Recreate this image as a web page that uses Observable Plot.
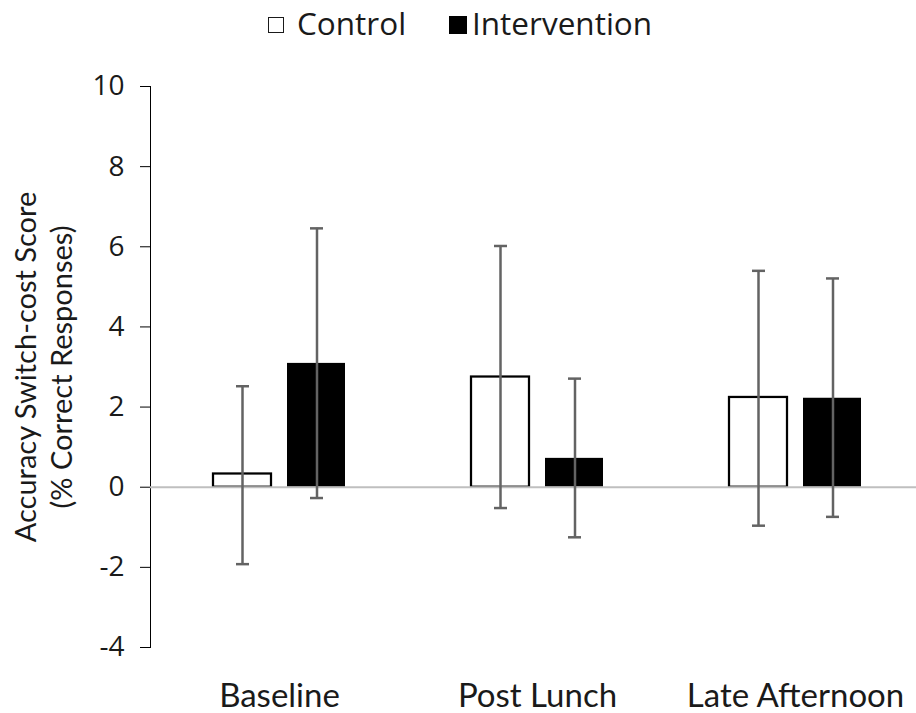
<!DOCTYPE html>
<html>
<head>
<meta charset="utf-8">
<script src="https://cdn.jsdelivr.net/npm/d3@7"></script>
<script src="https://cdn.jsdelivr.net/npm/@observablehq/plot@0.6"></script>
<style>
  body { margin: 0; background: #fff; font-family: "Open Sans", Lato, sans-serif; }
  #legend { position: relative; width: 916px; height: 50px; color: #1a1a1a; font-size: 31.5px; font-family: "Open Sans", sans-serif; }
  #legend .box { position: absolute; box-sizing: border-box; }
  #legend .lab { position: absolute; top: 8px; line-height: 30px; white-space: nowrap; }
  #chart svg { display: block; }
  [aria-label^="y-axis"] text, g[aria-label^="y-axis"] { font-size: 28px !important; font-family: "Open Sans", sans-serif !important; fill: #1a1a1a; }
  [aria-label^="x-axis"] text, g[aria-label^="x-axis"] { font-size: 33px !important; font-family: Lato, sans-serif !important; fill: #1a1a1a; }
</style>
</head>
<body>
<div id="legend"></div>
<div id="chart"></div>
<script>
// ---- data ----
const groups = ["Baseline", "Post Lunch", "Late Afternoon"];
const seriesNames = ["Control", "Intervention"];
const controlMean = [0.33, 2.75, 2.24];
const controlUpper = [2.52, 6.02, 5.40];
const controlLower = [-1.92, -0.52, -0.96];
const interventionMean = [3.09, 0.72, 2.22];
const interventionUpper = [6.46, 2.71, 5.21];
const interventionLower = [-0.27, -1.25, -0.74];
const yTicks = [-4, -2, 0, 2, 4, 6, 8, 10];
const yTitle = ["Accuracy Switch-cost Score", "(% Correct Responses)"];

const rows = groups.map((g, i) => ({
  group: g,
  cMean: controlMean[i], cHigh: controlUpper[i], cLow: controlLower[i],
  iMean: interventionMean[i], iHigh: interventionUpper[i], iLow: interventionLower[i]
}));

// ---- legend (HTML, above the SVG) ----
const legend = document.getElementById("legend");
legend.innerHTML = `
  <div class="box" style="left:268px;top:17px;width:16px;height:16px;border:1.6px solid #1a1a1a;background:#fff"></div>
  <div class="lab" style="left:297px">${seriesNames[0]}</div>
  <div class="box" style="left:449px;top:16px;width:18px;height:18px;background:#000"></div>
  <div class="lab" style="left:472px">${seriesNames[1]}</div>`;

const errColor = "#636363";
const errW = 2.5;

const chart = Plot.plot({
  width: 916,
  height: 663,
  marginTop: 36,
  marginBottom: 66,
  marginLeft: 150,
  marginRight: 0,
  style: { fontFamily: "Lato, 'Open Sans', sans-serif", color: "#000", background: "#fff", overflow: "visible" },
  x: { domain: groups, range: [150, 924], padding: 0, tickSize: 0, tickPadding: 36, label: null },
  y: { domain: [-4, 10], ticks: yTicks, tickSize: 10, tickPadding: 16, line: true, label: null, tickFormat: d => String(d) },
  marks: [
    Plot.barY(rows, { x: "group", y1: 0, y2: "cMean", insetLeft: 63, insetRight: 137, fill: "#fff", stroke: "#000", strokeWidth: 2.25 }),
    Plot.barY(rows, { x: "group", y1: 0, y2: "iMean", insetLeft: 137, insetRight: 63, fill: "#000" }),
    Plot.ruleY([0], { stroke: "#bfbfbf", strokeWidth: 2 }),
    Plot.ruleX(rows, { x: "group", y1: "cLow", y2: "cHigh", dx: -37, stroke: errColor, strokeWidth: errW }),
    Plot.tickY(rows, { x: "group", y: "cHigh", insetLeft: 86, insetRight: 159, stroke: errColor, strokeWidth: errW }),
    Plot.tickY(rows, { x: "group", y: "cLow", insetLeft: 86, insetRight: 159, stroke: errColor, strokeWidth: errW }),
    Plot.ruleX(rows, { x: "group", y1: "iLow", y2: "iHigh", dx: 37.5, stroke: errColor, strokeWidth: errW }),
    Plot.tickY(rows, { x: "group", y: "iHigh", insetLeft: 160, insetRight: 85, stroke: errColor, strokeWidth: errW }),
    Plot.tickY(rows, { x: "group", y: "iLow", insetLeft: 160, insetRight: 85, stroke: errColor, strokeWidth: errW }),
    Plot.text([yTitle.join("\n")], { frameAnchor: "left", rotate: -90, dx: -108, fontSize: 29, lineHeight: 1.22, fill: "#1a1a1a", textAnchor: "middle" })
  ]
});
document.getElementById("chart").appendChild(chart);
</script>
</body>
</html>
